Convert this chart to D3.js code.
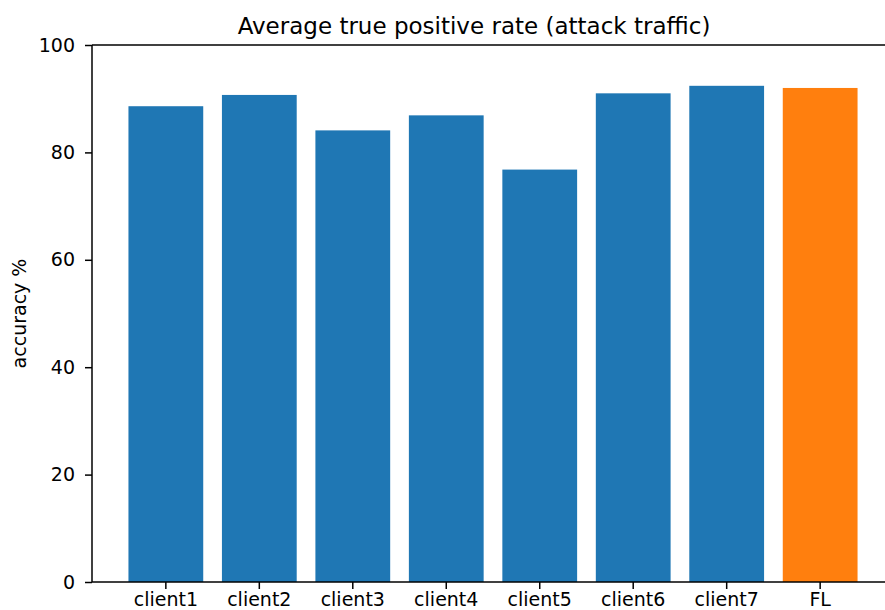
<!DOCTYPE html>
<html>
<head>
<meta charset="utf-8">
<script src="https://cdn.jsdelivr.net/npm/d3@7"></script>
<style>
  html, body { margin: 0; padding: 0; background: #fff; }
  svg { display: block; }
</style>
</head>
<body>
<svg id="chart" width="885" height="610"></svg>
<script>
// Average true positive rate per client model and the federated model
const categories = ["client1", "client2", "client3", "client4", "client5", "client6", "client7", "FL"];
const tprValues = [88.6, 90.7, 84.1, 86.9, 76.8, 91.0, 92.4, 92.0];
const yTicks = [0, 20, 40, 60, 80, 100];
const titleText = "Average true positive rate (attack traffic)";
const yLabelText = "accuracy %";

const FONT = "DejaVu Sans, sans-serif";
const svg = d3.select("#chart").attr("font-family", FONT);
const plot = { left: 92, right: 894, top: 45, bottom: 582 };

const x = d3.scaleBand()
  .domain(categories)
  .range([plot.left, plot.right])
  .paddingInner(0.2)
  .paddingOuter(0.39);

const y = d3.scaleLinear()
  .domain([0, 100])
  .range([plot.bottom, plot.top]);

// Bars: clients in blue, the federated model in orange
svg.append("g")
  .selectAll("rect")
  .data(categories)
  .join("rect")
  .attr("x", d => x(d))
  .attr("width", x.bandwidth())
  .attr("y", (d, i) => y(tprValues[i]))
  .attr("height", (d, i) => y(0) - y(tprValues[i]))
  .attr("fill", d => d === "FL" ? "#ff7f0e" : "#1f77b4");

// X axis
const xAxis = svg.append("g")
  .attr("transform", `translate(0,${plot.bottom})`)
  .call(d3.axisBottom(x).tickSize(7).tickPadding(3).tickSizeOuter(0))
  .attr("font-family", FONT);
xAxis.select(".domain").remove();
xAxis.selectAll(".tick line").attr("stroke", "#000").attr("stroke-width", 1.5);
xAxis.selectAll(".tick text")
  .attr("font-size", 19)
  .attr("fill", "#000")
  .attr("dy", "0.76em");

// Y axis
const yAxis = svg.append("g")
  .attr("transform", `translate(${plot.left},0)`)
  .call(d3.axisLeft(y).tickValues(yTicks).tickSize(7).tickPadding(10).tickSizeOuter(0))
  .attr("font-family", FONT);
yAxis.select(".domain").remove();
yAxis.selectAll(".tick line").attr("stroke", "#000").attr("stroke-width", 1.5);
yAxis.selectAll(".tick text")
  .attr("font-size", 19)
  .attr("fill", "#000");

// Spines (left, top, bottom; the right edge falls outside the frame)
const spines = svg.append("g").attr("stroke", "#000").attr("stroke-width", 1.5).attr("fill", "none");
spines.append("line").attr("x1", plot.left).attr("x2", plot.left).attr("y1", plot.top).attr("y2", plot.bottom);
spines.append("line").attr("x1", plot.left).attr("x2", plot.right).attr("y1", plot.top).attr("y2", plot.top);
spines.append("line").attr("x1", plot.left).attr("x2", plot.right).attr("y1", plot.bottom).attr("y2", plot.bottom);
spines.append("line").attr("x1", plot.right).attr("x2", plot.right).attr("y1", plot.top).attr("y2", plot.bottom);

// Title
svg.append("text")
  .attr("x", 474)
  .attr("y", 34)
  .attr("text-anchor", "middle")
  .attr("font-size", 23)
  .attr("fill", "#000")
  .text(titleText);

// Y axis label
svg.append("text")
  .attr("transform", `translate(26,${(plot.top + plot.bottom) / 2}) rotate(-90)`)
  .attr("text-anchor", "middle")
  .attr("font-size", 19)
  .attr("fill", "#000")
  .text(yLabelText);
</script>
</body>
</html>
